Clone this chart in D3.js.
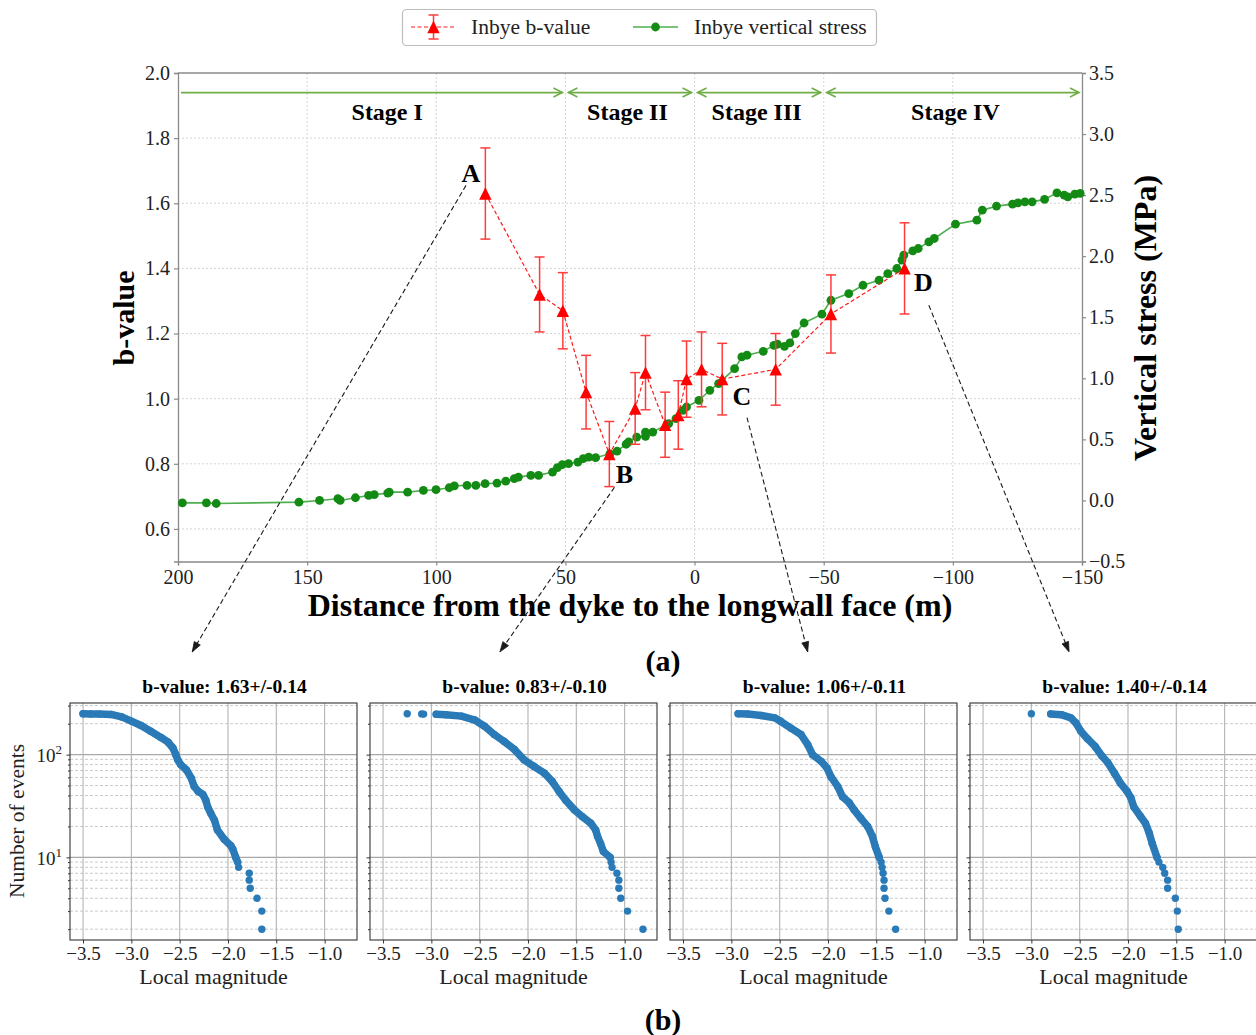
<!DOCTYPE html>
<html>
<head>
<meta charset="utf-8">
<script src="https://cdn.jsdelivr.net/npm/d3@7"></script>
<style>
  body { margin: 0; background: #fff; }
  svg { display: block; font-family: "Liberation Serif", "Times New Roman", serif; }
</style>
</head>
<body>
<svg id="fig" width="1256" height="1035"></svg>
<script>
// ---------- (a) b-value and vertical stress against distance ----------
const bDistance = [81, 60, 51, 42, 33, 23, 19, 11.4, 6.3, 3.1, -2.7, -10.7, -31.4, -52.8, -81.3];
const bValue    = [1.63, 1.32, 1.27, 1.02, 0.83, 0.97, 1.08, 0.92, 0.95, 1.06, 1.09, 1.06, 1.09, 1.26, 1.40];
const bError    = [0.14, 0.115, 0.117, 0.113, 0.10, 0.11, 0.114, 0.10, 0.105, 0.117, 0.115, 0.11, 0.11, 0.12, 0.14];

const stressDistance = [198.3, 189.0, 185.2, 153.2, 145.2, 138.1, 137.2, 131.3, 126.2, 124.0,
  118.8, 118.2, 111.1, 105.0, 100.1, 95.0, 93.0, 88.1, 84.7, 81.1,
  76.5, 73.1, 69.8, 68.2, 63.4, 60.4, 55.0, 53.1, 51.2, 48.8,
  45.2, 43.1, 41.0, 38.3, 32.8, 30.0, 26.5, 25.5, 22.4, 19.0,
  19.0, 16.2, 10.0, 7.2, 4.5, 3.1, -1.7, -5.9, -9.3, -15.5,
  -18.3, -20.3, -26.6, -30.7, -32.1, -34.8, -36.9, -39.0, -42.4, -49.3,
  -52.8, -59.7, -65.2, -71.4, -74.8, -78.3, -80.3, -81.0, -84.5, -86.6,
  -90.7, -92.8, -101.0, -109.3, -111.4, -116.9, -123.1, -125.2, -127.9, -130.7,
  -135.5, -140.3, -143.1, -144.5, -147.2, -149.3];
const stressValue = [-0.02, -0.02, -0.025, -0.014, 0.0, 0.014, 0.0, 0.022, 0.041, 0.047,
  0.06, 0.068, 0.068, 0.082, 0.088, 0.104, 0.12, 0.123, 0.123, 0.137,
  0.142, 0.158, 0.178, 0.191, 0.205, 0.205, 0.232, 0.268, 0.293, 0.301,
  0.314, 0.342, 0.355, 0.35, 0.382, 0.404, 0.46, 0.48, 0.519, 0.525,
  0.56, 0.56, 0.629, 0.67, 0.738, 0.765, 0.82, 0.902, 0.956, 1.079,
  1.175, 1.189, 1.221, 1.27, 1.279, 1.262, 1.29, 1.366, 1.453, 1.525,
  1.639, 1.694, 1.762, 1.803, 1.858, 1.899, 1.967, 2.008, 2.044, 2.063,
  2.117, 2.145, 2.262, 2.295, 2.377, 2.41, 2.426, 2.437, 2.445, 2.445,
  2.465, 2.519, 2.5, 2.486, 2.508, 2.514];

const distanceTicks = [200, 150, 100, 50, 0, -50, -100, -150];
const bTicks = [0.6, 0.8, 1.0, 1.2, 1.4, 1.6, 1.8, 2.0];
const stressTicks = [-0.5, 0.0, 0.5, 1.0, 1.5, 2.0, 2.5, 3.0, 3.5];

const stageNames = ["Stage I", "Stage II", "Stage III", "Stage IV"];
const stageStart = [200, 50, 0, -50];
const stageEnd = [50, 0, -50, -150];
const stageLabelAt = [119, 26, -24, -101];
const stageArrowB = 1.94;
const stageLabelB = 1.883;

const pointLabels = ["A", "B", "C", "D"];
const pointLabelDist = [86.6, 27.2, -18.3, -88.6];
const pointLabelB = [1.692, 0.769, 1.01, 1.359];
const linkStartDist = [88.5, 31, -20.3, -90.7];
const linkStartB = [1.655, 0.728, 0.942, 1.287];
const linkEndMag = [-2.37, -2.29, -2.21, -2.61];
const linkEndCount = [1000, 1000, 1000, 1000];

// ---------- (b) frequency-magnitude panels ----------
const panelTitles = ["b-value: 1.63+/-0.14", "b-value: 0.83+/-0.10", "b-value: 1.06+/-0.11", "b-value: 1.40+/-0.14"];
// dense part of each cumulative curve
const denseMag = [
  [-3.50, -3.42, -3.33, -3.21, -3.10, -3.00, -2.90, -2.80, -2.69, -2.62, -2.57, -2.54, -2.52, -2.49, -2.43, -2.38, -2.35, -2.31, -2.26, -2.23, -2.21, -2.18, -2.14, -2.11, -2.04, -1.97, -1.95, -1.92, -1.90],
  [-2.95, -2.85, -2.69, -2.55, -2.45, -2.35, -2.25, -2.14, -2.04, -1.94, -1.83, -1.75, -1.68, -1.61, -1.52, -1.44, -1.35, -1.30, -1.28, -1.25, -1.22, -1.15],
  [-2.93, -2.83, -2.69, -2.55, -2.49, -2.38, -2.28, -2.21, -2.16, -2.07, -2.01, -1.97, -1.90, -1.85, -1.78, -1.73, -1.66, -1.59, -1.54, -1.51, -1.47],
  [-2.80, -2.69, -2.59, -2.54, -2.49, -2.42, -2.34, -2.27, -2.21, -2.14, -2.08, -2.01, -1.97, -1.94, -1.87, -1.82, -1.78, -1.75, -1.70]
];
const denseCount = [
  [250, 249, 248, 246, 233, 212, 192, 169, 146, 132, 116, 100, 89, 80, 71, 59, 49, 44, 41, 36, 31, 27, 23, 18.5, 15, 13, 12, 10, 9],
  [247, 244, 237, 217, 189, 157, 135, 112, 89, 77, 66, 55, 44, 36, 29, 25, 21.5, 18.5, 16, 13.7, 11.4, 10],
  [250, 248, 240, 228, 211, 180, 157, 125, 100, 86, 74, 61, 49, 39, 34, 29, 24, 20, 16, 12.7, 10],
  [249, 245, 228, 204, 170, 143, 120, 97, 84, 66, 53, 44, 38, 31, 25, 21.5, 17.2, 13.7, 10]
];
// separate events at the ends of each curve
const sparseMag = [
  [-1.89, -1.78, -1.78, -1.77, -1.70, -1.65, -1.65],
  [-3.25, -3.10, -3.08, -1.14, -1.13, -1.08, -1.06, -1.06, -1.04, -0.97, -0.81],
  [-1.45, -1.44, -1.43, -1.42, -1.42, -1.41, -1.37, -1.30],
  [-3.00, -1.68, -1.64, -1.62, -1.59, -1.59, -1.51, -1.49, -1.48]
];
const sparseCount = [
  [8, 7, 6, 5, 4, 3, 2],
  [250, 249, 248, 9, 8, 7, 6, 5, 4, 3, 2],
  [9, 8, 7, 6, 5, 4, 3, 2],
  [250, 9, 8, 7, 6, 5, 4, 3, 2]
];
const magTicks = [-3.5, -3.0, -2.5, -2.0, -1.5, -1.0];
const countMajorTicks = [10, 100];
const countMinorTicks = [2, 3, 4, 5, 6, 7, 8, 9, 20, 30, 40, 50, 60, 70, 80, 90, 200, 300];

// ---------- drawing ----------
const svg = d3.select("#fig");
const fmt1 = d3.format(".1f");
const fmt0 = d3.format("d");

const M = { left: 178, right: 1082, top: 73, bottom: 561.5 };
const x = d3.scaleLinear().domain([200, -150]).range([M.left, M.right]);
const yB = d3.scaleLinear().domain([0.5, 2.0]).range([M.bottom, M.top]);
const yS = d3.scaleLinear().domain([-0.5, 3.5]).range([M.bottom, M.top]);

function arrowHead(g, x0, y0, x1, y1, len, half, color, filled) {
  const a = Math.atan2(y1 - y0, x1 - x0);
  const bx = x1 - len * Math.cos(a), by = y1 - len * Math.sin(a);
  const px = -Math.sin(a) * half, py = Math.cos(a) * half;
  if (filled) {
    g.append("path").attr("d", `M${x1},${y1}L${bx + px},${by + py}L${bx - px},${by - py}Z`)
      .attr("fill", color).attr("stroke", color).attr("stroke-width", 0.8);
  } else {
    g.append("path").attr("d", `M${bx + px},${by + py}L${x1},${y1}L${bx - px},${by - py}`)
      .attr("fill", "none").attr("stroke", color).attr("stroke-width", 1.6);
  }
}

const main = svg.append("g");

// grid
main.append("g").selectAll("line").data(distanceTicks.slice(1, -1)).join("line")
  .attr("x1", d => x(d)).attr("x2", d => x(d)).attr("y1", M.top).attr("y2", M.bottom)
  .attr("stroke", "#d0d0d0").attr("stroke-width", 0.9).attr("stroke-dasharray", "2,2");
main.append("g").selectAll("line").data(bTicks.slice(0, -1)).join("line")
  .attr("x1", M.left).attr("x2", M.right).attr("y1", d => yB(d)).attr("y2", d => yB(d))
  .attr("stroke", "#d0d0d0").attr("stroke-width", 0.9).attr("stroke-dasharray", "2,2");

// axes
function styleAxis(g, size) {
  g.selectAll("path.domain").attr("stroke", "#8a8a8a").attr("stroke-width", 1.3);
  g.selectAll(".tick line").attr("stroke", "#8a8a8a").attr("stroke-width", 1.2);
  g.selectAll(".tick text").attr("fill", "#222").attr("font-size", size)
    .attr("font-family", "Liberation Serif, serif");
}
const axB = main.append("g").attr("transform", `translate(0,${M.bottom})`)
  .call(d3.axisBottom(x).tickValues(distanceTicks).tickFormat(fmt0).tickSize(4).tickPadding(4));
styleAxis(axB, 20);
const axL = main.append("g").attr("transform", `translate(${M.left},0)`)
  .call(d3.axisLeft(yB).tickValues(bTicks).tickFormat(fmt1).tickSize(4).tickPadding(4));
styleAxis(axL, 20);
const axR = main.append("g").attr("transform", `translate(${M.right},0)`)
  .call(d3.axisRight(yS).tickValues(stressTicks).tickFormat(fmt1).tickSize(4).tickPadding(3));
styleAxis(axR, 20);
main.append("line").attr("x1", M.left).attr("x2", M.right).attr("y1", M.top).attr("y2", M.top)
  .attr("stroke", "#8a8a8a").attr("stroke-width", 1.3);

// stage arrows and names
const stageG = main.append("g");
stageNames.forEach((name, i) => {
  const x0 = x(stageStart[i]) + 3, x1 = x(stageEnd[i]) - 3, yy = yB(stageArrowB);
  stageG.append("line").attr("x1", x0).attr("x2", x1).attr("y1", yy).attr("y2", yy)
    .attr("stroke", "#6fad47").attr("stroke-width", 1.8);
  if (i > 0) arrowHead(stageG, x1, yy, x0, yy, 9, 4.5, "#6fad47", false);
  arrowHead(stageG, x0, yy, x1, yy, 9, 4.5, "#6fad47", false);
  stageG.append("text").attr("x", x(stageLabelAt[i])).attr("y", yB(stageLabelB)).attr("dy", "0.35em")
    .attr("text-anchor", "middle").attr("font-size", 24).attr("font-weight", "bold").text(name);
});

// connectors to the (b) panels
const panelLeft = [70, 370, 670, 970];
const PW = 287, PT = 703, PH = 237;
const xM = d3.scaleLinear().domain([-3.635, -0.665]).range([0, PW]);
const yN = d3.scaleLog().domain([1.57, 318]).range([PH, 0]);

const linkG = svg.append("g");
pointLabels.forEach((lab, i) => {
  const x0 = x(linkStartDist[i]), y0 = yB(linkStartB[i]);
  const x1 = panelLeft[i] + xM(linkEndMag[i]), y1 = PT + yN(linkEndCount[i]);
  linkG.append("line").attr("x1", x0).attr("y1", y0).attr("x2", x1).attr("y2", y1)
    .attr("stroke", "#1a1a1a").attr("stroke-width", 1.1).attr("stroke-dasharray", "5,3");
  arrowHead(linkG, x0, y0, x1, y1, 10, 3.5, "#1a1a1a", true);
});

// stress series
const green = main.append("g");
const stressPts = stressDistance.map((d, i) => [d, stressValue[i]]);
green.append("path").datum(stressPts)
  .attr("d", d3.line().x(d => x(d[0])).y(d => yS(d[1])))
  .attr("fill", "none").attr("stroke", "#4fae4f").attr("stroke-width", 1.6);
green.selectAll("circle").data(stressPts).join("circle")
  .attr("cx", d => x(d[0])).attr("cy", d => yS(d[1])).attr("r", 4.4).attr("fill", "#138a13");

// b-value series
const red = main.append("g");
const bPts = bDistance.map((d, i) => [d, bValue[i], bError[i]]);
red.append("path").datum(bPts)
  .attr("d", d3.line().x(d => x(d[0])).y(d => yB(d[1])))
  .attr("fill", "none").attr("stroke", "#ff1a1a").attr("stroke-width", 1.2).attr("stroke-dasharray", "4,2.5");
const eb = red.selectAll("g.eb").data(bPts).join("g").attr("class", "eb");
eb.append("line").attr("x1", d => x(d[0])).attr("x2", d => x(d[0]))
  .attr("y1", d => yB(d[1] - d[2])).attr("y2", d => yB(d[1] + d[2]))
  .attr("stroke", "#ff3b3b").attr("stroke-width", 1.5);
[1, -1].forEach(s => {
  eb.append("line").attr("x1", d => x(d[0]) - 5).attr("x2", d => x(d[0]) + 5)
    .attr("y1", d => yB(d[1] + s * d[2])).attr("y2", d => yB(d[1] + s * d[2]))
    .attr("stroke", "#ff3b3b").attr("stroke-width", 1.5);
});
eb.append("path").attr("d", "M0,-6.2L6.2,6.2L-6.2,6.2Z")
  .attr("transform", d => `translate(${x(d[0])},${yB(d[1])})`).attr("fill", "#ff0000");

// point labels
pointLabels.forEach((lab, i) => {
  main.append("text").attr("x", x(pointLabelDist[i])).attr("y", yB(pointLabelB[i])).attr("dy", "0.35em")
    .attr("text-anchor", "middle").attr("font-size", 26).attr("font-weight", "bold").text(lab);
});

// axis titles
main.append("text").attr("transform", `translate(134,318) rotate(-90)`).attr("text-anchor", "middle")
  .attr("font-size", 30).attr("font-weight", "bold").text("b-value");
main.append("text").attr("transform", `translate(1156,318) rotate(-90)`).attr("text-anchor", "middle")
  .attr("font-size", 32).attr("font-weight", "bold").text("Vertical stress (MPa)");
main.append("text").attr("x", 630).attr("y", 616).attr("text-anchor", "middle")
  .attr("font-size", 32).attr("font-weight", "bold").text("Distance from the dyke to the longwall face (m)");
svg.append("text").attr("x", 663).attr("y", 671).attr("text-anchor", "middle")
  .attr("font-size", 30).attr("font-weight", "bold").text("(a)");
svg.append("text").attr("x", 663).attr("y", 1030).attr("text-anchor", "middle")
  .attr("font-size", 30).attr("font-weight", "bold").text("(b)");

// legend
const leg = svg.append("g");
leg.append("rect").attr("x", 402.5).attr("y", 9.5).attr("width", 474).attr("height", 36).attr("rx", 4)
  .attr("fill", "#fff").attr("stroke", "#bdbdbd").attr("stroke-width", 1.2);
leg.append("line").attr("x1", 411).attr("x2", 456).attr("y1", 27).attr("y2", 27)
  .attr("stroke", "#ff1a1a").attr("stroke-width", 1.2).attr("stroke-dasharray", "4,2.5");
leg.append("line").attr("x1", 433.5).attr("x2", 433.5).attr("y1", 15).attr("y2", 39).attr("stroke", "#ff3b3b").attr("stroke-width", 1.5);
[15, 39].forEach(v => leg.append("line").attr("x1", 428.5).attr("x2", 438.5).attr("y1", v).attr("y2", v)
  .attr("stroke", "#ff3b3b").attr("stroke-width", 1.5));
leg.append("path").attr("d", "M0,-6.2L6.2,6.2L-6.2,6.2Z").attr("transform", "translate(433.5,27)").attr("fill", "#ff0000");
leg.append("text").attr("x", 471).attr("y", 34).attr("font-size", 21.6).attr("fill", "#222").text("Inbye b-value");
leg.append("line").attr("x1", 633).attr("x2", 678).attr("y1", 27).attr("y2", 27).attr("stroke", "#4fae4f").attr("stroke-width", 1.6);
leg.append("circle").attr("cx", 655.5).attr("cy", 27).attr("r", 4.4).attr("fill", "#138a13");
leg.append("text").attr("x", 694).attr("y", 34).attr("font-size", 21.6).attr("fill", "#222").text("Inbye vertical stress");

// (b) panels
panelTitles.forEach((title, p) => {
  const g = svg.append("g").attr("transform", `translate(${panelLeft[p]},${PT})`);
  // grid
  g.append("g").selectAll("line").data(countMinorTicks).join("line")
    .attr("x1", 0).attr("x2", PW).attr("y1", d => yN(d)).attr("y2", d => yN(d))
    .attr("stroke", "#bdbdbd").attr("stroke-width", 0.8).attr("stroke-dasharray", "3,2");
  g.append("g").selectAll("line").data(countMajorTicks).join("line")
    .attr("x1", 0).attr("x2", PW).attr("y1", d => yN(d)).attr("y2", d => yN(d))
    .attr("stroke", "#a8a8a8").attr("stroke-width", 1.1);
  g.append("g").selectAll("line").data(magTicks).join("line")
    .attr("x1", d => xM(d)).attr("x2", d => xM(d)).attr("y1", 0).attr("y2", PH)
    .attr("stroke", "#b4b4b4").attr("stroke-width", 1.1);

  // cumulative curve
  const dense = denseMag[p].map((m, i) => [m, denseCount[p][i]]);
  const sparse = sparseMag[p].map((m, i) => [m, sparseCount[p][i]]);
  g.append("path").datum(dense).attr("d", d3.line().x(d => xM(d[0])).y(d => yN(d[1])))
    .attr("fill", "none").attr("stroke", "#2a7ab8").attr("stroke-width", 7.5)
    .attr("stroke-linecap", "round").attr("stroke-linejoin", "round");
  g.append("g").selectAll("circle").data(dense.concat(sparse)).join("circle")
    .attr("cx", d => xM(d[0])).attr("cy", d => yN(d[1])).attr("r", 3.7).attr("fill", "#2a7ab8");

  // frame and axes
  g.append("rect").attr("x", 0).attr("y", 0).attr("width", PW).attr("height", PH)
    .attr("fill", "none").attr("stroke", "#333").attr("stroke-width", 1.1);
  const ax = g.append("g").attr("transform", `translate(0,${PH})`)
    .call(d3.axisBottom(xM).tickValues(magTicks).tickFormat(fmt1).tickSize(3.5).tickPadding(3));
  ax.select("path.domain").remove();
  ax.selectAll(".tick line").attr("stroke", "#333");
  ax.selectAll(".tick text").attr("fill", "#222").attr("font-size", 19).attr("font-family", "Liberation Serif, serif");
  const ay = g.append("g").call(d3.axisLeft(yN).tickValues(countMajorTicks).tickSize(3.5).tickPadding(3).tickFormat(""));
  ay.select("path.domain").remove();
  ay.selectAll(".tick line").attr("stroke", "#333");
  const ayMinor = g.append("g").call(d3.axisLeft(yN).tickValues(countMinorTicks).tickSize(2).tickFormat(""));
  ayMinor.select("path.domain").remove();
  ayMinor.selectAll(".tick line").attr("stroke", "#333");
  if (p === 0) {
    ay.selectAll(".tick").each(function (d) {
      const t = d3.select(this).append("text").attr("x", -8).attr("y", 7).attr("text-anchor", "end")
        .attr("fill", "#222").attr("font-size", 19).attr("font-family", "Liberation Serif, serif");
      t.append("tspan").text("10");
      t.append("tspan").attr("dy", -8).attr("font-size", 13).text(Math.round(Math.log10(d)));
    });
  }

  g.append("text").attr("x", PW / 2 + 11).attr("y", -10).attr("text-anchor", "middle")
    .attr("font-size", 19.5).attr("font-weight", "bold").text(title);
  g.append("text").attr("x", PW / 2).attr("y", 281).attr("text-anchor", "middle")
    .attr("font-size", 22).attr("fill", "#222").text("Local magnitude");
});
svg.append("text").attr("transform", "translate(24,821) rotate(-90)").attr("text-anchor", "middle")
  .attr("font-size", 21.5).attr("fill", "#222").text("Number of events");
</script>
</body>
</html>
